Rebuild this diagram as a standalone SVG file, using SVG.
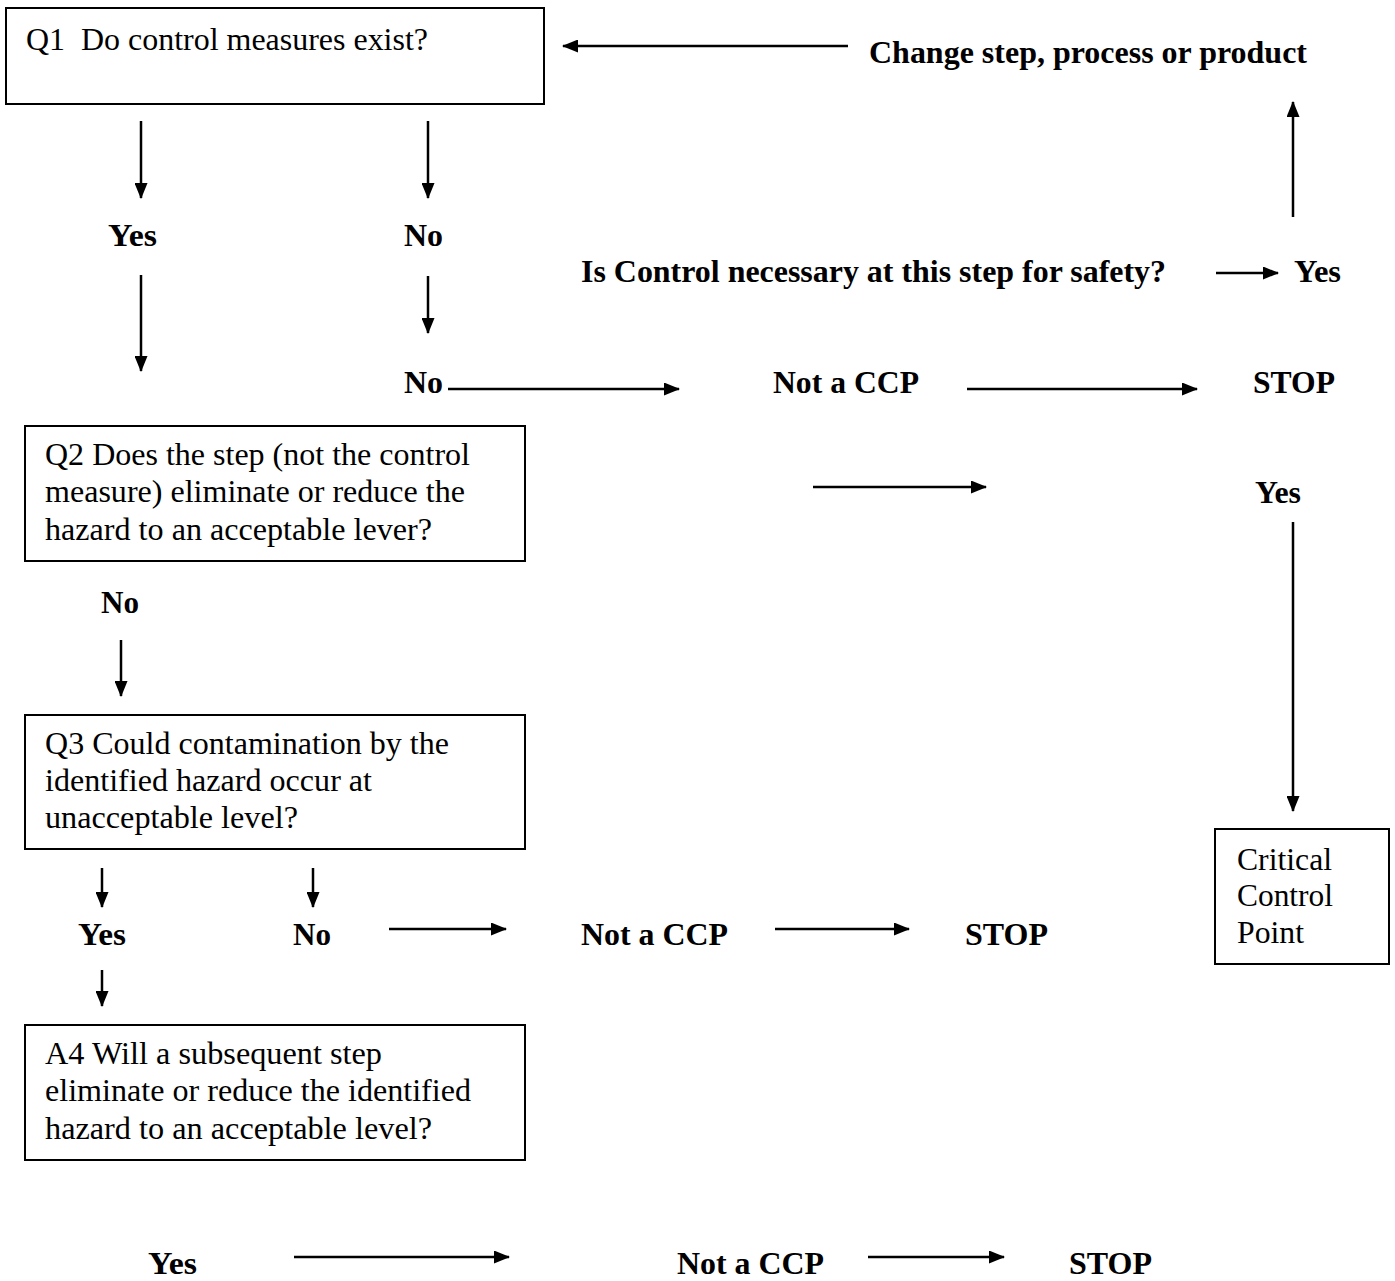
<svg xmlns="http://www.w3.org/2000/svg" width="1395" height="1281" viewBox="0 0 1395 1281">
<style>
.box{fill:#fff;stroke:#000;stroke-width:2}
.t{font-family:"Liberation Serif","Times New Roman",serif;font-size:31px;fill:#000}
.b{font-family:"Liberation Serif","Times New Roman",serif;font-size:31px;font-weight:bold;fill:#000}
.c{stroke:#000;stroke-width:2.5;fill:none;marker-end:url(#ah)}
</style>
<defs>
<marker id="ah" viewBox="0 0 16 13" refX="15" refY="6.5" markerWidth="16" markerHeight="13" markerUnits="userSpaceOnUse" orient="auto">
<path d="M0,0 L16,6.5 L0,13 Z" fill="#000"/>
</marker>
</defs>
<rect width="1395" height="1281" fill="#fff"/>
<g id="q1">
<rect class="box" x="6" y="8" width="538" height="96"/>
<text class="t" x="26" y="50" xml:space="preserve" textLength="402" lengthAdjust="spacingAndGlyphs">Q1  Do control measures exist?</text>
</g>
<g id="q2">
<rect class="box" x="25" y="426" width="500" height="135"/>
<text class="t" x="45" y="465" textLength="425" lengthAdjust="spacingAndGlyphs">Q2 Does the step (not the control</text>
<text class="t" x="45" y="502" textLength="420" lengthAdjust="spacingAndGlyphs">measure) eliminate or reduce the</text>
<text class="t" x="45" y="540" textLength="387" lengthAdjust="spacingAndGlyphs">hazard to an acceptable lever?</text>
</g>
<g id="q3">
<rect class="box" x="25" y="715" width="500" height="134"/>
<text class="t" x="45" y="754" textLength="404" lengthAdjust="spacingAndGlyphs">Q3 Could contamination by the</text>
<text class="t" x="45" y="791" textLength="327" lengthAdjust="spacingAndGlyphs">identified hazard occur at</text>
<text class="t" x="45" y="828" textLength="253" lengthAdjust="spacingAndGlyphs">unacceptable level?</text>
</g>
<g id="a4">
<rect class="box" x="25" y="1025" width="500" height="135"/>
<text class="t" x="45" y="1064" textLength="337" lengthAdjust="spacingAndGlyphs">A4 Will a subsequent step</text>
<text class="t" x="45" y="1101" textLength="426" lengthAdjust="spacingAndGlyphs">eliminate or reduce the identified</text>
<text class="t" x="45" y="1139" textLength="387" lengthAdjust="spacingAndGlyphs">hazard to an acceptable level?</text>
</g>
<g id="ccp">
<rect class="box" x="1215" y="829" width="174" height="135"/>
<text class="t" x="1237" y="870" textLength="95" lengthAdjust="spacingAndGlyphs">Critical</text>
<text class="t" x="1237" y="906" textLength="96" lengthAdjust="spacingAndGlyphs">Control</text>
<text class="t" x="1237" y="943" textLength="67" lengthAdjust="spacingAndGlyphs">Point</text>
</g>
<g id="labels">
<text class="b" x="869" y="63" textLength="438" lengthAdjust="spacingAndGlyphs">Change step, process or product</text>
<text class="b" x="108" y="246" textLength="49" lengthAdjust="spacingAndGlyphs">Yes</text>
<text class="b" x="404" y="246" textLength="39" lengthAdjust="spacingAndGlyphs">No</text>
<text class="b" x="581" y="282" textLength="585" lengthAdjust="spacingAndGlyphs">Is Control necessary at this step for safety?</text>
<text class="b" x="1294" y="282" textLength="47" lengthAdjust="spacingAndGlyphs">Yes</text>
<text class="b" x="404" y="393" textLength="39" lengthAdjust="spacingAndGlyphs">No</text>
<text class="b" x="773" y="393" textLength="146" lengthAdjust="spacingAndGlyphs">Not a CCP</text>
<text class="b" x="1253" y="393" textLength="82" lengthAdjust="spacingAndGlyphs">STOP</text>
<text class="b" x="1255" y="503" textLength="46" lengthAdjust="spacingAndGlyphs">Yes</text>
<text class="b" x="101" y="613" textLength="38" lengthAdjust="spacingAndGlyphs">No</text>
<text class="b" x="78" y="945" textLength="48" lengthAdjust="spacingAndGlyphs">Yes</text>
<text class="b" x="293" y="945" textLength="38" lengthAdjust="spacingAndGlyphs">No</text>
<text class="b" x="581" y="945" textLength="147" lengthAdjust="spacingAndGlyphs">Not a CCP</text>
<text class="b" x="965" y="945" textLength="83" lengthAdjust="spacingAndGlyphs">STOP</text>
<text class="b" x="148" y="1274" textLength="49" lengthAdjust="spacingAndGlyphs">Yes</text>
<text class="b" x="677" y="1274" textLength="147" lengthAdjust="spacingAndGlyphs">Not a CCP</text>
<text class="b" x="1069" y="1274" textLength="83" lengthAdjust="spacingAndGlyphs">STOP</text>
</g>
<g id="connectors">
<line class="c" x1="848" y1="46" x2="563" y2="46"/>
<line class="c" x1="141" y1="121" x2="141" y2="198"/>
<line class="c" x1="428" y1="121" x2="428" y2="198"/>
<line class="c" x1="141" y1="275" x2="141" y2="371"/>
<line class="c" x1="428" y1="276" x2="428" y2="333"/>
<line class="c" x1="448" y1="389" x2="679" y2="389"/>
<line class="c" x1="967" y1="389" x2="1197" y2="389"/>
<line class="c" x1="1216" y1="273" x2="1278" y2="273"/>
<line class="c" x1="1293" y1="217" x2="1293" y2="102"/>
<line class="c" x1="813" y1="487" x2="986" y2="487"/>
<line class="c" x1="1293" y1="522" x2="1293" y2="811"/>
<line class="c" x1="121" y1="640" x2="121" y2="696"/>
<line class="c" x1="102" y1="868" x2="102" y2="907"/>
<line class="c" x1="313" y1="868" x2="313" y2="907"/>
<line class="c" x1="389" y1="929" x2="506" y2="929"/>
<line class="c" x1="775" y1="929" x2="909" y2="929"/>
<line class="c" x1="102" y1="970" x2="102" y2="1006"/>
<line class="c" x1="294" y1="1257" x2="509" y2="1257"/>
<line class="c" x1="868" y1="1257" x2="1004" y2="1257"/>
</g>
</svg>
